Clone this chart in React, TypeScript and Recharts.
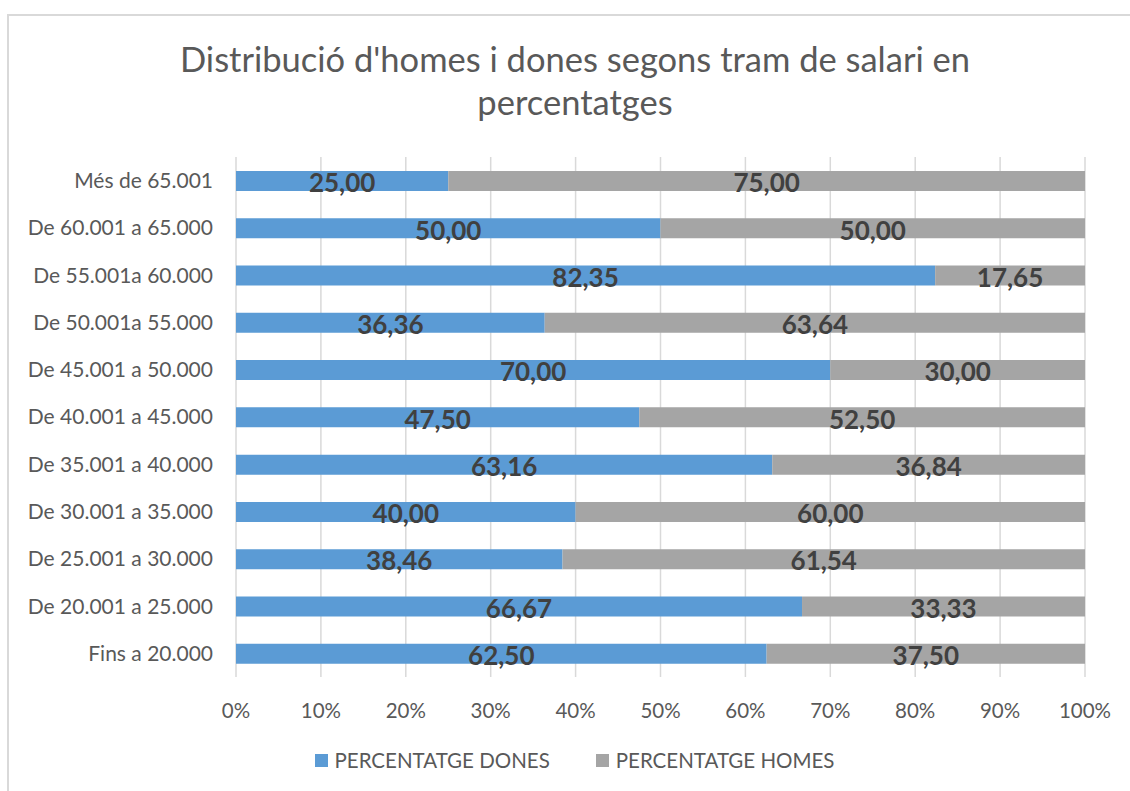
import React from "react";
import {
  BarChart,
  Bar,
  XAxis,
  YAxis,
  CartesianGrid,
  Legend,
  LabelList,
} from "recharts";

// trams de salari, de dalt a baix
const trams = [
  "Més de 65.001",
  "De 60.001 a 65.000",
  "De 55.001a 60.000",
  "De 50.001a 55.000",
  "De 45.001 a 50.000",
  "De 40.001 a 45.000",
  "De 35.001 a 40.000",
  "De 30.001 a 35.000",
  "De 25.001 a 30.000",
  "De 20.001 a 25.000",
  "Fins a 20.000",
];

const dones = [25.0, 50.0, 82.35, 36.36, 70.0, 47.5, 63.16, 40.0, 38.46, 66.67, 62.5];
const homes = [75.0, 50.0, 17.65, 63.64, 30.0, 52.5, 36.84, 60.0, 61.54, 33.33, 37.5];

const xTicks = [0, 10, 20, 30, 40, 50, 60, 70, 80, 90, 100];

const data = trams.map((tram, i) => ({
  tram,
  dones: dones[i],
  homes: homes[i],
}));

const FONT = "Lato, 'Open Sans', sans-serif";
const TEXT = "#595959";

const fmt = (v: any) => Number(v).toFixed(2).replace(".", ",");

function LegendContent() {
  const items = [
    { label: "PERCENTATGE DONES", color: "#5B9BD5" },
    { label: "PERCENTATGE HOMES", color: "#A5A5A5" },
  ];
  return (
    <div
      style={{
        display: "flex",
        justifyContent: "center",
        gap: 46,
        paddingLeft: 64,
        paddingTop: 17,
        fontFamily: FONT,
        fontSize: 20.5,
        color: TEXT,
      }}
    >
      {items.map((it) => (
        <div key={it.label} style={{ display: "flex", alignItems: "center" }}>
          <span
            style={{
              display: "inline-block",
              width: 13,
              height: 13,
              background: it.color,
              marginRight: 7,
            }}
          />
          <span>{it.label}</span>
        </div>
      ))}
    </div>
  );
}

export default function App() {
  return (
    <div
      style={{
        position: "absolute",
        left: 0,
        top: 0,
        width: 1130,
        height: 791,
        overflow: "hidden",
        background: "#fff",
      }}
    >
      {/* marc del gràfic */}
      <div
        style={{
          position: "absolute",
          left: 7,
          top: 14,
          width: 1200,
          height: 900,
          border: "2px solid #d9d9d9",
        }}
      />
      <div
        style={{
          position: "absolute",
          left: 0,
          top: 37,
          width: 1150,
          textAlign: "center",
          fontFamily: FONT,
          fontSize: 34.5,
          lineHeight: "43px",
          color: TEXT,
        }}
      >
        Distribució d'homes i dones segons tram de salari en
        <br />
        percentatges
      </div>
      <div style={{ position: "absolute", left: 0, top: 0 }}>
        <BarChart
          width={1130}
          height={791}
          data={data}
          layout="vertical"
          barSize={20}
          margin={{ top: 157, right: 45, left: 0, bottom: 0 }}
        >
          <CartesianGrid horizontal={false} stroke="#d9d9d9" strokeWidth={1.5} />
          <XAxis
            type="number"
            domain={[0, 100]}
            ticks={xTicks}
            tickFormatter={(v) => `${v}%`}
            axisLine={false}
            tickLine={false}
            tickSize={0}
            tickMargin={26}
            height={54}
            interval={0}
            tick={{ fill: TEXT, fontSize: 20.5, fontFamily: FONT }}
          />
          <YAxis
            type="category"
            dataKey="tram"
            width={236}
            axisLine={false}
            tickLine={false}
            tickSize={0}
            tickMargin={23}
            interval={0}
            tick={{ fill: TEXT, fontSize: 21, fontFamily: FONT }}
          />
          <Legend verticalAlign="bottom" height={60} content={<LegendContent />} />
          <Bar dataKey="dones" stackId="a" fill="#5B9BD5" isAnimationActive={false}>
            <LabelList
              dataKey="dones"
              position="center"
              formatter={fmt}
              dy={2}
              style={{ fill: "#404040", fontSize: 26, fontWeight: 700, fontFamily: FONT }}
            />
          </Bar>
          <Bar dataKey="homes" stackId="a" fill="#A5A5A5" isAnimationActive={false}>
            <LabelList
              dataKey="homes"
              position="center"
              formatter={fmt}
              dy={2}
              style={{ fill: "#404040", fontSize: 26, fontWeight: 700, fontFamily: FONT }}
            />
          </Bar>
        </BarChart>
      </div>
    </div>
  );
}
